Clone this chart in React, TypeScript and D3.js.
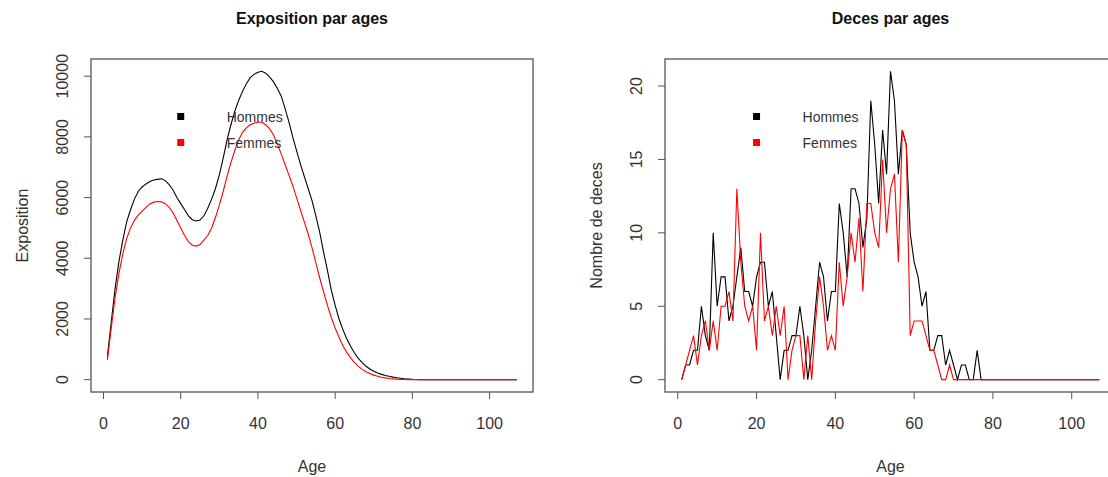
import * as d3 from "d3";

const ages = d3.range(1, 108);

// Exposition (ages 1..107)
const expoHommes = [
  750, 1900, 3000, 3900, 4600, 5200, 5600, 5950, 6200, 6350,
  6450, 6530, 6580, 6600, 6620, 6560, 6430, 6250, 6000, 5800,
  5600, 5400, 5270, 5230, 5260, 5400, 5650, 5950, 6300, 6750,
  7300, 7900, 8400, 8850, 9200, 9500, 9750, 9950, 10060, 10130,
  10160, 10100, 9980, 9820, 9600, 9350, 8950, 8500, 8000, 7550,
  7100, 6700, 6300, 5900, 5400, 4850, 4200, 3600, 2950, 2450,
  2000, 1650, 1350, 1100, 880, 700, 560, 440, 350, 280,
  220, 175, 140, 110, 85, 65, 48, 32, 20, 10,
  4, 0, 0, 0, 0, 0, 0, 0, 0, 0,
  0, 0, 0, 0, 0, 0, 0, 0, 0, 0,
  0, 0, 0, 0, 0, 0, 0,
];
const expoFemmes = [
  650, 1700, 2700, 3500, 4150, 4650, 5000, 5250, 5420, 5550,
  5680, 5790, 5850, 5870, 5860, 5800, 5680, 5500, 5250, 5000,
  4750, 4550, 4430, 4400, 4450, 4600, 4750, 5000, 5350, 5750,
  6200, 6700, 7150, 7550, 7900, 8150, 8300, 8400, 8450, 8480,
  8480, 8400, 8270, 8070, 7770, 7450, 7100, 6750, 6400, 6000,
  5600, 5200, 4800, 4350, 3850, 3350, 2900, 2450, 2050, 1700,
  1400, 1120, 900, 720, 560, 440, 340, 260, 200, 150,
  110, 80, 58, 40, 27, 17, 10, 5, 2, 0,
  0, 0, 0, 0, 0, 0, 0, 0, 0, 0,
  0, 0, 0, 0, 0, 0, 0, 0, 0, 0,
  0, 0, 0, 0, 0, 0, 0,
];

// Deces (ages 1..107)
const decesHommes = [
  0, 1, 1, 2, 2, 5, 3, 2, 10, 5,
  7, 7, 4, 5, 7, 9, 6, 6, 5, 7,
  8, 8, 5, 6, 3, 0, 2, 2, 3, 3,
  5, 3, 0, 2, 5, 8, 7, 4, 6, 6,
  12, 10, 7, 13, 13, 12, 9, 11, 19, 16,
  12, 17, 14, 21, 19, 14, 17, 16, 10, 8,
  7, 5, 6, 2, 2, 3, 3, 1, 2, 1,
  0, 1, 1, 0, 0, 2, 0, 0, 0, 0,
  0, 0, 0, 0, 0, 0, 0, 0, 0, 0,
  0, 0, 0, 0, 0, 0, 0, 0, 0, 0,
  0, 0, 0, 0, 0, 0, 0,
];
const decesFemmes = [
  0, 1, 2, 3, 1, 3, 4, 2, 4, 2,
  5, 5, 6, 4, 13, 8, 5, 4, 5, 2,
  10, 4, 5, 3, 5, 3, 5, 0, 2, 3,
  3, 0, 3, 0, 4, 7, 5, 2, 3, 2,
  8, 5, 7, 10, 8, 11, 6, 12, 12, 10,
  9, 15, 10, 13, 14, 8, 17, 16, 3, 4,
  4, 4, 3, 2, 2, 1, 0, 0, 1, 0,
  0, 0, 0, 0, 0, 0, 0, 0, 0, 0,
  0, 0, 0, 0, 0, 0, 0, 0, 0, 0,
  0, 0, 0, 0, 0, 0, 0, 0, 0, 0,
  0, 0, 0, 0, 0, 0, 0,
];

const xTicks = [0, 20, 40, 60, 80, 100];
const expoTicks = [0, 2000, 4000, 6000, 8000, 10000];
const decesTicks = [0, 5, 10, 15, 20];
const legendLabels = ["Hommes", "Femmes"];
const colors = ["#000000", "#ff0000"];

const FONT = "'Liberation Sans', Arial, sans-serif";
const TXT = "#333";
const AX = "#555";

// R-like 4% extension of the data range
const rDomain = (lo: number, hi: number) => {
  const e = (hi - lo) * 0.04;
  return [lo - e, hi + e];
};

type PanelProps = {
  box: { x0: number; x1: number; y0: number; y1: number };
  title: string;
  ylab: string;
  hommes: number[];
  femmes: number[];
  yTicks: number[];
  legendAge: number;
};

const Panel = ({ box, title, ylab, hommes, femmes, yTicks, legendAge }: PanelProps) => {
  const x = d3.scaleLinear().domain(rDomain(d3.min(ages)!, d3.max(ages)!)).range([box.x0, box.x1]);
  const ymax = d3.max([...hommes, ...femmes])!;
  const y = d3.scaleLinear().domain(rDomain(0, ymax)).range([box.y1, box.y0]);
  const line = d3
    .line<number>()
    .x((_, i) => x(ages[i]))
    .y((d) => y(d));
  const cx = (box.x0 + box.x1) / 2;
  const cy = (box.y0 + box.y1) / 2;
  const tl = 7;
  // legend sits above the age-20 tick, like legend(20, ...) in R
  const lx = x(legendAge);
  return (
    <g fontFamily={FONT} fill={TXT}>
      <text x={cx} y={24} textAnchor="middle" fontSize={16} fontWeight="bold" fill="#111">
        {title}
      </text>
      <path d={line(hommes) ?? ""} fill="none" stroke={colors[0]} strokeWidth={1.1} />
      <path d={line(femmes) ?? ""} fill="none" stroke={colors[1]} strokeWidth={1.1} />
      <rect x={box.x0} y={box.y0} width={box.x1 - box.x0} height={box.y1 - box.y0} fill="none" stroke={AX} strokeWidth={1.3} />
      {/* x axis */}
      {xTicks.map((t) => (
        <g key={t}>
          <line x1={x(t)} x2={x(t)} y1={box.y1} y2={box.y1 + tl} stroke={AX} />
          <text x={x(t)} y={box.y1 + 37} textAnchor="middle" fontSize={16}>
            {t}
          </text>
        </g>
      ))}
      <text x={cx} y={box.y1 + 80} textAnchor="middle" fontSize={16}>
        Age
      </text>
      {/* y axis */}
      {yTicks.map((t) => (
        <g key={t}>
          <line x1={box.x0 - tl} x2={box.x0} y1={y(t)} y2={y(t)} stroke={AX} />
          <text transform={`translate(${box.x0 - 23},${y(t)}) rotate(-90)`} textAnchor="middle" fontSize={16}>
            {t}
          </text>
        </g>
      ))}
      <text transform={`translate(${box.x0 - 63},${cy}) rotate(-90)`} textAnchor="middle" fontSize={16}>
        {ylab}
      </text>
      {/* legend */}
      {legendLabels.map((l, i) => (
        <g key={l}>
          <rect x={lx - 3.5} y={117 + i * 26 - 4} width={7} height={7} fill={colors[i]} />
          <text x={lx + 46} y={117 + i * 26 + 5} fontSize={14}>
            {l}
          </text>
        </g>
      ))}
    </g>
  );
};

export default function App() {
  return (
    <svg
      width={1108}
      height={477}
      style={{ position: "absolute", left: 0, top: 0, background: "#fff" }}
    >
      <Panel
        box={{ x0: 91, x1: 533, y0: 59, y1: 392 }}
        title="Exposition par ages"
        ylab="Exposition"
        hommes={expoHommes}
        femmes={expoFemmes}
        yTicks={expoTicks}
        legendAge={20}
      />
      <Panel
        box={{ x0: 665, x1: 1116, y0: 59, y1: 392 }}
        title="Deces par ages"
        ylab="Nombre de deces"
        hommes={decesHommes}
        femmes={decesFemmes}
        yTicks={decesTicks}
        legendAge={20}
      />
    </svg>
  );
}
